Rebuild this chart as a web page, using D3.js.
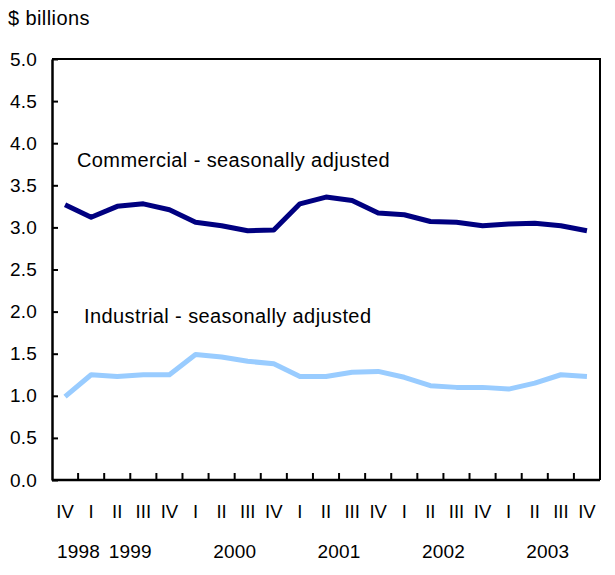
<!DOCTYPE html>
<html>
<head>
<meta charset="utf-8">
<script src="https://cdn.jsdelivr.net/npm/d3@7"></script>
<style>
  body { margin: 0; background: #fff; }
  text { font-family: "Liberation Sans", Arial, Helvetica, sans-serif; fill: #000; }
</style>
</head>
<body>
<div id="chart"></div>
<script>
// quarters, IV 1998 through IV 2003
const quarters = ["IV", "I", "II", "III", "IV", "I", "II", "III", "IV", "I", "II", "III", "IV",
  "I", "II", "III", "IV", "I", "II", "III", "IV"];
const years = [
  { label: "1998", at: 0, shift: 0.5 },
  { label: "1999", at: 2, shift: 1 },
  { label: "2000", at: 6, shift: 1 },
  { label: "2001", at: 10, shift: 1 },
  { label: "2002", at: 14, shift: 1 },
  { label: "2003", at: 18, shift: 1 }
];
const commercial = [3.27, 3.12, 3.25, 3.28, 3.21, 3.06, 3.02, 2.96, 2.97, 3.28, 3.36,
  3.32, 3.17, 3.15, 3.07, 3.06, 3.02, 3.04, 3.05, 3.02, 2.96];
const industrial = [0.99, 1.25, 1.23, 1.25, 1.25, 1.49, 1.46, 1.41, 1.38, 1.23, 1.23,
  1.28, 1.29, 1.22, 1.12, 1.10, 1.10, 1.08, 1.15, 1.25, 1.23];
const yTicks = [0, 0.5, 1, 1.5, 2, 2.5, 3, 3.5, 4, 4.5, 5];

const width = 615, height = 575;
const m = { left: 52, right: 600, top: 59, bottom: 480 };

const svg = d3.select("#chart").append("svg")
  .attr("width", width)
  .attr("height", height);

const x = d3.scaleBand()
  .domain(d3.range(quarters.length))
  .range([m.left, m.right])
  .padding(0);

const y = d3.scaleLinear()
  .domain([0, 5])
  .range([m.bottom, m.top]);

// frame top/right
svg.append("path")
  .attr("d", `M${m.left},${m.top}H${m.right}V${m.bottom}`)
  .attr("fill", "none")
  .attr("stroke", "#000")
  .attr("stroke-width", 2);

// y axis
const yAxis = svg.append("g")
  .attr("transform", `translate(${m.left},0)`)
  .call(d3.axisLeft(y).tickValues(yTicks).tickFormat(d3.format(".1f"))
    .tickSizeInner(-6).tickSizeOuter(0).tickPadding(15));
yAxis.select(".domain").attr("stroke-width", 2.5);
yAxis.selectAll(".tick line").attr("stroke-width", 2);
yAxis.selectAll(".tick text")
  .attr("font-size", 19)
  .attr("letter-spacing", 0.2)
  .style("font-family", '"Liberation Sans", Arial, sans-serif');

// x axis: baseline, ticks between quarters
svg.append("line")
  .attr("x1", m.left).attr("x2", m.right)
  .attr("y1", m.bottom).attr("y2", m.bottom)
  .attr("stroke", "#000")
  .attr("stroke-width", 2.5);

svg.append("g")
  .selectAll("line")
  .data(d3.range(1, quarters.length))
  .join("line")
  .attr("x1", d => x(d)).attr("x2", d => x(d))
  .attr("y1", m.bottom).attr("y2", m.bottom - 7)
  .attr("stroke", "#000")
  .attr("stroke-width", 2);

svg.append("g")
  .selectAll("text")
  .data(quarters)
  .join("text")
  .attr("x", (d, i) => x(i) + x.bandwidth() / 2)
  .attr("y", 518)
  .attr("text-anchor", "middle")
  .attr("font-size", 18.5)
  .text(d => d);

svg.append("g")
  .selectAll("text")
  .data(years)
  .join("text")
  .attr("x", d => x(d.at) + x.bandwidth() * d.shift)
  .attr("y", 558)
  .attr("text-anchor", d => d.at === 0 ? "start" : "middle")
  .attr("dx", d => d.at === 0 ? -8 : 0)
  .attr("font-size", 19)
  .attr("letter-spacing", 0.2)
  .text(d => d.label);

// lines
const line = d3.line()
  .x((d, i) => x(i) + x.bandwidth() / 2)
  .y(d => y(d));

svg.append("path")
  .datum(industrial)
  .attr("d", line)
  .attr("fill", "none")
  .attr("stroke", "#99ccff")
  .attr("stroke-width", 5)
  .attr("stroke-linejoin", "round");

svg.append("path")
  .datum(commercial)
  .attr("d", line)
  .attr("fill", "none")
  .attr("stroke", "#000080")
  .attr("stroke-width", 5)
  .attr("stroke-linejoin", "round");

// labels
svg.append("text")
  .attr("x", 77).attr("y", 167)
  .attr("font-size", 20)
  .attr("letter-spacing", 0.4)
  .text("Commercial - seasonally adjusted");

svg.append("text")
  .attr("x", 84).attr("y", 323)
  .attr("font-size", 20)
  .attr("letter-spacing", 0.4)
  .text("Industrial - seasonally adjusted");

svg.append("text")
  .attr("x", 8).attr("y", 25)
  .attr("font-size", 20)
  .attr("letter-spacing", 0.4)
  .text("$ billions");
</script>
</body>
</html>
